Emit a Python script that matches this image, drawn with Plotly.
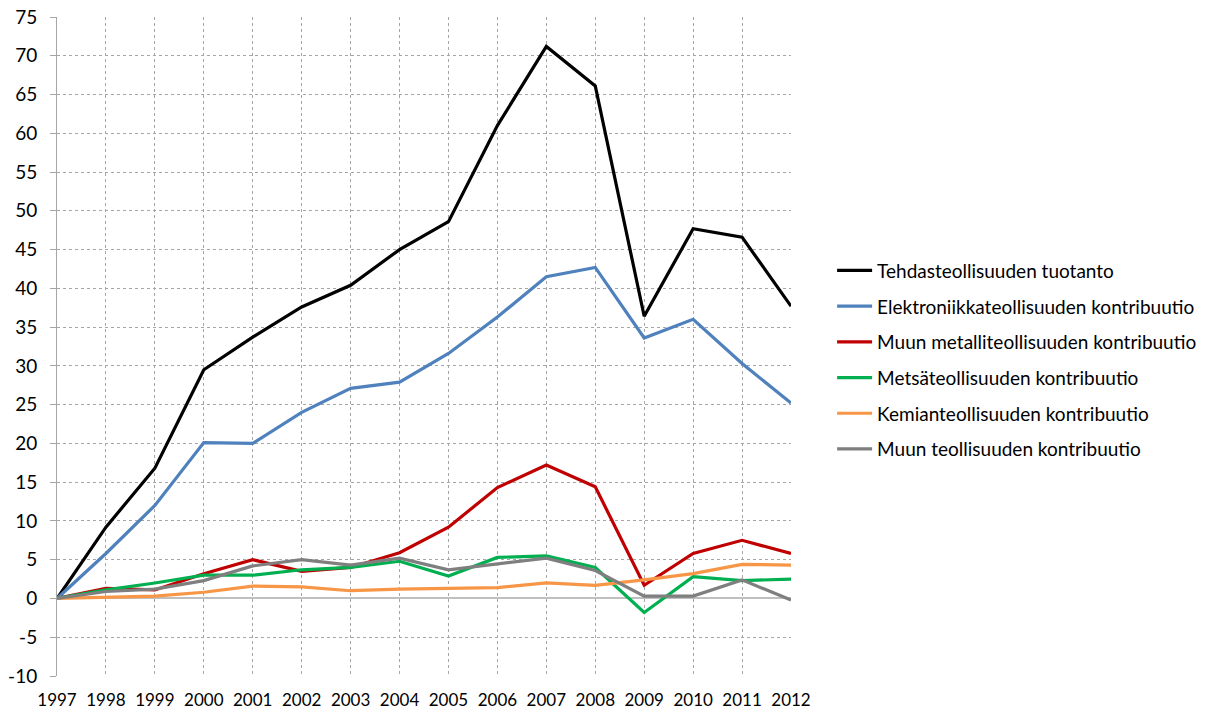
import plotly.graph_objects as go

years = list(range(1997, 2013))

tehdas = [0, 9.2, 16.8, 29.5, 33.7, 37.6, 40.4, 45.0, 48.6, 61.0, 71.2, 66.1, 36.4, 47.7, 46.6, 37.7]
elektroniikka = [0, 5.8, 12.0, 20.1, 20.0, 24.0, 27.1, 27.9, 31.6, 36.3, 41.5, 42.7, 33.6, 36.0, 30.3, 25.2]
metalli = [0, 1.3, 1.1, 3.2, 5.0, 3.5, 4.0, 5.9, 9.2, 14.3, 17.2, 14.4, 1.7, 5.8, 7.5, 5.8]
metsa = [0, 1.1, 2.0, 3.0, 3.0, 3.7, 4.0, 4.8, 2.9, 5.3, 5.5, 4.0, -1.8, 2.8, 2.3, 2.5]
kemia = [0, 0.1, 0.3, 0.8, 1.6, 1.5, 1.0, 1.2, 1.35, 1.4, 2.0, 1.7, 2.4, 3.2, 4.4, 4.3]
muu = [0, 0.9, 1.2, 2.3, 4.2, 5.0, 4.3, 5.2, 3.7, 4.4, 5.2, 3.6, 0.3, 0.3, 2.4, -0.2]

names = [
    "Tehdasteollisuuden tuotanto",
    "Elektroniikkateollisuuden kontribuutio",
    "Muun metalliteollisuuden kontribuutio",
    "Metsäteollisuuden kontribuutio",
    "Kemianteollisuuden kontribuutio",
    "Muun teollisuuden kontribuutio",
]
series = [tehdas, elektroniikka, metalli, metsa, kemia, muu]
colors = ["#000000", "#4F81BD", "#C00000", "#00B050", "#F79646", "#7F7F7F"]

y_ticks = list(range(-10, 80, 5))
y_ticktext = [str(v) for v in y_ticks]

fig = go.Figure()
for i, (n, s, c) in enumerate(zip(names, series, colors)):
    fig.add_trace(go.Scatter(
        x=years, y=s, name=n, mode="lines",
        line=dict(color=c, width=3.2),
        legendgroup=str(i),
    ))

fig.update_layout(
    width=1205, height=713,
    margin=dict(l=57, r=414, t=17, b=37, autoexpand=False),
    plot_bgcolor="white", paper_bgcolor="white",
    font=dict(family="Lato", size=17, color="#000000"),
    showlegend=True,
    legend=dict(
        x=1.056, xanchor="left", y=0.644, yanchor="top",
        font=dict(family="Lato", size=19, color="#000000"),
        tracegroupgap=8.0, itemwidth=35,
        bgcolor="rgba(0,0,0,0)",
    ),
)
fig.update_xaxes(
    range=[1997, 2012], tickmode="array", tickvals=years,
    ticktext=[str(y) for y in years],
    showgrid=True, gridcolor="#A6A6A6", griddash="dot", gridwidth=1,
    zeroline=False, showline=False, ticks="", ticklabelstandoff=12,
    tickfont=dict(family="Lato", size=17), automargin=False,
    ticklabeloverflow="allow",
)
fig.update_yaxes(
    range=[-10, 75], tickmode="array", tickvals=y_ticks, ticktext=y_ticktext,
    showgrid=True, gridcolor="#A6A6A6", griddash="dot", gridwidth=1,
    zeroline=True, zerolinecolor="#BFBFBF", zerolinewidth=2,
    showline=True, linecolor="#A6A6A6", linewidth=1,
    ticks="outside", ticklen=6, tickcolor="#A6A6A6",
    ticklabelstandoff=9,
    tickfont=dict(family="Lato", size=19), automargin=False,
    ticklabeloverflow="allow",
)

fig.write_html(
    "out.html",
    config={"displayModeBar": False},
    post_script="document.body.style.margin='0px';",
)
